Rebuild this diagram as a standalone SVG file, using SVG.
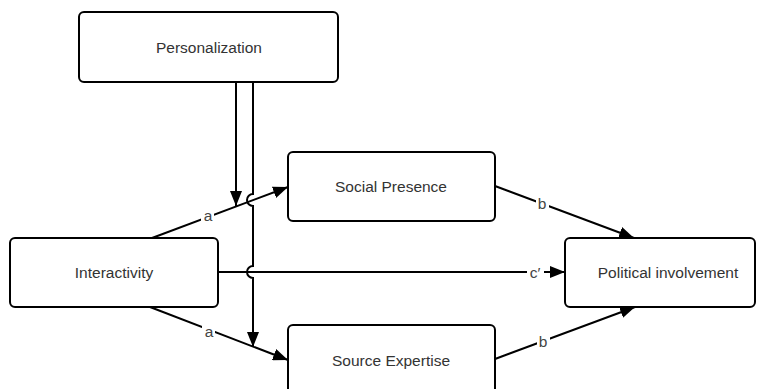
<svg xmlns="http://www.w3.org/2000/svg" width="763" height="389" viewBox="0 0 763 389">
<style>
.box{fill:#fff;stroke:#000;stroke-width:2}
.t{font-family:"Liberation Sans",Arial,sans-serif;font-size:15.5px;fill:#333;text-anchor:middle;dominant-baseline:central}
.ln{fill:none;stroke:#000;stroke-width:2}
.lb{font-family:"Liberation Sans",Arial,sans-serif;font-size:15.5px;fill:#444;text-anchor:middle;dominant-baseline:central}
</style>
<defs>
<marker id="ah" markerUnits="userSpaceOnUse" markerWidth="16" markerHeight="12" refX="15" refY="6" orient="auto">
<path d="M0,0 L15,6 L0,12 Z" fill="#000"/>
</marker>
</defs>
<rect width="763" height="389" fill="#fff"/>
<g id="connectors">
<line class="ln" x1="236" y1="82" x2="236" y2="206" marker-end="url(#ah)"/>
<path class="ln" d="M253,82 V194 A6,6 0 0 0 253,206 V266 A6,6 0 0 0 253,278 V347" marker-end="url(#ah)"/>
<line class="ln" x1="152" y1="238" x2="288" y2="187" marker-end="url(#ah)"/>
<line class="ln" x1="150" y1="307" x2="288" y2="360" marker-end="url(#ah)"/>
<line class="ln" x1="218" y1="272" x2="565" y2="272" marker-end="url(#ah)"/>
<line class="ln" x1="495" y1="186" x2="634" y2="238" marker-end="url(#ah)"/>
<line class="ln" x1="495" y1="359" x2="635" y2="307" marker-end="url(#ah)"/>
<rect x="201" y="206" width="13" height="17" fill="#fff"/>
<text class="lb" x="208" y="215">a</text>
<rect x="202" y="322" width="13" height="17" fill="#fff"/>
<text class="lb" x="209" y="331">a</text>
<rect x="536" y="194" width="13" height="17" fill="#fff"/>
<text class="lb" x="542" y="203">b</text>
<rect x="537" y="332" width="13" height="17" fill="#fff"/>
<text class="lb" x="543" y="341">b</text>
<rect x="527" y="263" width="17" height="17" fill="#fff"/>
<text class="lb" x="535" y="272">c′</text>
</g>
<g id="personalization">
<rect class="box" x="79" y="12" width="259" height="70" rx="5"/>
<text class="t" x="209" y="47">Personalization</text>
</g>
<g id="interactivity">
<rect class="box" x="10" y="238" width="208" height="69" rx="5"/>
<text class="t" x="114" y="272">Interactivity</text>
</g>
<g id="social-presence">
<rect class="box" x="288" y="152" width="207" height="69" rx="5"/>
<text class="t" x="391" y="186">Social Presence</text>
</g>
<g id="source-expertise">
<rect class="box" x="288" y="325" width="207" height="69" rx="5"/>
<text class="t" x="391" y="360">Source Expertise</text>
</g>
<g id="political-involvement">
<rect class="box" x="565" y="238" width="190" height="69" rx="5"/>
<text class="t" x="668" y="272">Political involvement</text>
</g>
</svg>
